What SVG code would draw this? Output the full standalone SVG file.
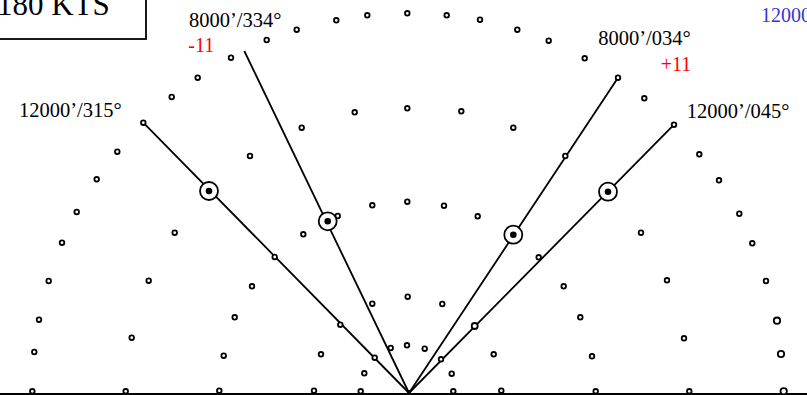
<svg xmlns="http://www.w3.org/2000/svg" width="807" height="395" viewBox="0 0 807 395">
<style>
.d{fill:#fff;stroke:#000;stroke-width:1.8}
.dl{fill:#fff;stroke:#000;stroke-width:1.8}
.b{fill:#fff;stroke:#000;stroke-width:1.8}
.bi{fill:#000}
.ln{stroke:#000;stroke-width:1.8;fill:none}
.t{font-family:"Liberation Serif","Times New Roman",serif;font-size:20.5px;fill:#000}
.r{font-family:"Liberation Serif","Times New Roman",serif;font-size:20px;fill:#f00}
.bl{font-family:"Liberation Serif","Times New Roman",serif;font-size:20px;fill:#3535d5}
</style>
<rect width="807" height="395" fill="#fff"/>
<g id="speed-box">
<rect x="-10" y="-10" width="156" height="49" fill="#fff" stroke="#000" stroke-width="1.8"/>
<text x="-3" y="15" style="font-family:'Liberation Serif','Times New Roman',serif;font-size:31px">180 KTS</text>
</g>
<g id="connectors">
<line class="ln" x1="0" y1="394" x2="807" y2="394" stroke-width="2"/>
<line class="ln" x1="409" y1="393" x2="143.3" y2="122.7"/>
<line class="ln" x1="409" y1="393" x2="244.3" y2="51"/>
<line class="ln" x1="409" y1="393" x2="618" y2="77.7"/>
<line class="ln" x1="409" y1="393" x2="674" y2="124.7"/>
</g>
<g id="dots">
<g id="ring1">
<circle class="d" r="2.3" cx="32.3" cy="391.3"/><circle class="d" r="2.3" cx="34.3" cy="352"/><circle class="d" r="2.3" cx="39" cy="319.7"/><circle class="d" r="2.3" cx="48.7" cy="281"/><circle class="d" r="2.3" cx="62" cy="242.7"/><circle class="d" r="2.3" cx="76.7" cy="212"/><circle class="d" r="2.3" cx="96.7" cy="179.3"/><circle class="d" r="2.3" cx="117.3" cy="151.7"/><circle class="d" r="2.3" cx="143.3" cy="122.7"/><circle class="d" r="2.3" cx="171.7" cy="97"/><circle class="d" r="2.3" cx="197.7" cy="77.7"/><circle class="d" r="2.3" cx="231" cy="57.7"/><circle class="d" r="2.3" cx="266.7" cy="40"/><circle class="d" r="2.3" cx="296.7" cy="29.7"/><circle class="d" r="2.3" cx="336.3" cy="20.3"/><circle class="d" r="2.3" cx="367.3" cy="15.3"/><circle class="d" r="2.3" cx="407.3" cy="13.3"/><circle class="d" r="2.3" cx="446.7" cy="15.3"/><circle class="d" r="2.3" cx="480" cy="19.7"/><circle class="d" r="2.3" cx="517.3" cy="29.7"/><circle class="d" r="2.3" cx="548.7" cy="40.7"/><circle class="d" r="2.3" cx="584.7" cy="58.3"/><circle class="d" r="2.3" cx="618" cy="77.7"/><circle class="d" r="2.3" cx="644.3" cy="98.3"/><circle class="d" r="2.3" cx="674" cy="124.7"/><circle class="d" r="2.3" cx="699.3" cy="154.3"/><circle class="d" r="2.3" cx="719" cy="180.3"/><circle class="d" r="2.3" cx="739.3" cy="213.7"/><circle class="d" r="2.3" cx="752.3" cy="243.3"/><circle class="d" r="2.3" cx="766" cy="281"/><circle class="dl" r="3.2" cx="777" cy="320.7"/><circle class="dl" r="3.2" cx="781" cy="354"/><circle class="dl" r="3.2" cx="783.7" cy="391.3"/>
</g>
<g id="ring2">
<circle class="d" r="2.3" cx="125.7" cy="391.3"/><circle class="d" r="2.3" cx="131.7" cy="337.7"/><circle class="d" r="2.3" cx="148.7" cy="280.7"/><circle class="d" r="2.3" cx="174.7" cy="232.7"/><circle class="d" r="2.3" cx="250" cy="156"/><circle class="d" r="2.3" cx="301.7" cy="127.7"/><circle class="d" r="2.3" cx="354.7" cy="112.3"/><circle class="d" r="2.3" cx="407.3" cy="108.3"/><circle class="d" r="2.3" cx="461.3" cy="111.3"/><circle class="d" r="2.3" cx="513.3" cy="127.7"/><circle class="d" r="2.3" cx="565.3" cy="156"/><circle class="d" r="2.3" cx="641" cy="232.7"/><circle class="d" r="2.3" cx="667" cy="280.3"/><circle class="d" r="2.3" cx="684" cy="338.3"/><circle class="d" r="2.3" cx="689.3" cy="391.3"/>
</g>
<g id="ring3">
<circle class="d" r="2.3" cx="219.3" cy="390.7"/><circle class="d" r="2.3" cx="223.7" cy="355.7"/><circle class="d" r="2.3" cx="234.7" cy="317.3"/><circle class="d" r="2.3" cx="252" cy="286.3"/><circle class="d" r="2.3" cx="274.7" cy="257"/><circle class="d" r="2.3" cx="303.3" cy="234.3"/><circle class="d" r="2.3" cx="337.7" cy="216"/><circle class="d" r="2.3" cx="372.3" cy="205.3"/><circle class="d" r="2.3" cx="407.3" cy="201.7"/><circle class="d" r="2.3" cx="444" cy="205.7"/><circle class="d" r="2.3" cx="477.7" cy="216.3"/><circle class="d" r="2.3" cx="538.7" cy="257.3"/><circle class="d" r="2.3" cx="563.7" cy="286.3"/><circle class="d" r="2.3" cx="580.3" cy="317.3"/><circle class="d" r="2.3" cx="592" cy="356.3"/><circle class="d" r="2.3" cx="595.7" cy="391.3"/>
</g>
<g id="ring4">
<circle class="d" r="2.3" cx="314" cy="390.7"/><circle class="d" r="2.3" cx="321" cy="354.3"/><circle class="d" r="2.3" cx="340.3" cy="324.7"/><circle class="d" r="2.3" cx="372.3" cy="303.7"/><circle class="d" r="2.3" cx="407.7" cy="296.7"/><circle class="d" r="2.3" cx="442.3" cy="304"/><circle class="dl" r="3" cx="474.7" cy="326"/><circle class="d" r="2.3" cx="493.7" cy="354.3"/><circle class="d" r="2.3" cx="501.3" cy="390.7"/>
</g>
<g id="ring5">
<circle class="d" r="2.3" cx="360.7" cy="391.3"/><circle class="d" r="2.3" cx="364.3" cy="373.3"/><circle class="d" r="2.3" cx="374.7" cy="357.7"/><circle class="d" r="2.3" cx="390.7" cy="348"/><circle class="d" r="2.3" cx="407" cy="345.3"/><circle class="d" r="2.3" cx="424.7" cy="348.7"/><circle class="d" r="2.3" cx="441" cy="359.3"/><circle class="d" r="2.3" cx="451.7" cy="373.7"/><circle class="d" r="2.3" cx="453.3" cy="391.3"/>
</g>
<circle cx="409" cy="392" r="2" fill="#000"/>
</g>
<g id="wind-315"><circle class="b" cx="209" cy="191" r="9"/><circle class="bi" cx="209" cy="191" r="3.3"/></g>
<g id="wind-334"><circle class="b" cx="327.7" cy="221.3" r="9"/><circle class="bi" cx="327.7" cy="221.3" r="3.3"/></g>
<g id="wind-034"><circle class="b" cx="513.3" cy="234.7" r="9"/><circle class="bi" cx="513.3" cy="234.7" r="3.3"/></g>
<g id="wind-045"><circle class="b" cx="608" cy="191.7" r="9"/><circle class="bi" cx="608" cy="191.7" r="3.3"/></g>
<g id="labels">
<text class="t" x="189" y="26.7">8000’/334°</text>
<text class="r" x="188.3" y="51.7">-11</text>
<text class="t" x="19" y="117.3">12000’/315°</text>
<text class="t" x="598.3" y="45">8000’/034°</text>
<text class="r" x="660.7" y="71">+11</text>
<text class="t" x="686.7" y="118.3">12000’/045°</text>
<text class="bl" x="761" y="21.7">12000</text>
</g>
</svg>
